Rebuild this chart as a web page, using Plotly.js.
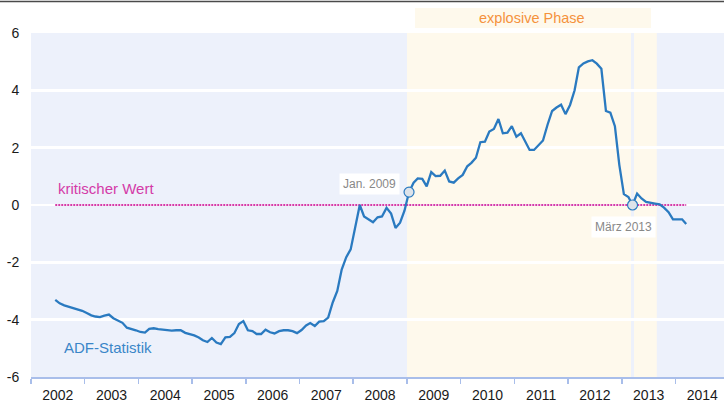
<!DOCTYPE html>
<html>
<head>
<meta charset="utf-8">
<script src="https://cdn.plot.ly/plotly-3.0.1.min.js"></script>
<style>html,body{margin:0;padding:0;background:#fff;}#chart{width:724px;height:407px;}</style>
</head>
<body>
<div id="chart"></div>
<script>
// ---- data (monthly ADF statistic, starting June 2002) ----
var startYear = 2002, startMonth = 6;
var adfValues = [
  -3.31, -3.43, -3.50, -3.55, -3.59, -3.64, -3.69, -3.77, -3.85, -3.89,
  -3.91, -3.86, -3.82, -3.95, -4.02, -4.11, -4.28, -4.32, -4.37, -4.43,
  -4.45, -4.32, -4.30, -4.33, -4.35, -4.35, -4.38, -4.37, -4.37, -4.46,
  -4.50, -4.55, -4.62, -4.72, -4.78, -4.64, -4.80, -4.85, -4.62, -4.60,
  -4.47, -4.15, -4.05, -4.37, -4.40, -4.50, -4.50, -4.35, -4.44, -4.48,
  -4.40, -4.37, -4.37, -4.40, -4.47, -4.36, -4.20, -4.12, -4.22, -4.07,
  -4.05, -3.93, -3.40, -3.00, -2.25, -1.82, -1.55, -0.80, 0.00, -0.40,
  -0.51, -0.60, -0.43, -0.40, -0.10, -0.30, -0.80, -0.62, -0.20, 0.45,
  0.78, 0.93, 0.91, 0.65, 1.15, 1.01, 1.02, 1.20, 0.82, 0.78,
  0.93, 1.05, 1.35, 1.47, 1.65, 2.19, 2.21, 2.56, 2.65, 3.00,
  2.50, 2.52, 2.75, 2.38, 2.50, 2.25, 1.92, 1.92, 2.07, 2.25,
  2.80, 3.28, 3.40, 3.50, 3.17, 3.49, 4.00, 4.80, 4.94, 5.01,
  5.05, 4.93, 4.75, 3.28, 3.22, 2.75, 1.40, 0.38, 0.28, 0.00,
  0.40, 0.23, 0.11, 0.07, 0.05, 0.02, -0.09, -0.25, -0.50, -0.50,
  -0.50, -0.66
];
var criticalValue = 0;
var phaseStart = '2009-01-01';
var phaseEnd = '2013-08-27';
var markerDates = ['2009-01-15', '2013-03-15'];
var markerLabels = ['Jan. 2009', 'März 2013'];
var yTickVals = [-6, -4, -2, 0, 2, 4, 6];
var yTickText = ['-6', '-4', '-2', '0', '2', '4', '6'];

// month dates
var adfDates = adfValues.map(function (v, i) {
  var m = startMonth - 1 + i;
  var y = startYear + Math.floor(m / 12);
  var mm = (m % 12) + 1;
  return y + '-' + (mm < 10 ? '0' : '') + mm + '-15';
});
var markerValues = markerDates.map(function (d) { return adfValues[adfDates.indexOf(d)]; });

var FONT = 'Liberation Sans, Arial, sans-serif';
var BG = '#EDF1FB';
var YEL = '#FEF9EC';
var BLUE = '#2A7AC0';
var MAG = '#D43BA8';

var traces = [
  {x: [adfDates[0], adfDates[adfDates.length - 1]], y: [criticalValue, criticalValue],
   mode: 'lines', line: {color: MAG, width: 2, dash: '2px,1px'}, hoverinfo: 'skip'},
  {x: adfDates, y: adfValues, mode: 'lines', line: {color: BLUE, width: 2.3}},
  {x: markerDates, y: markerValues, mode: 'markers',
   marker: {size: 10, color: '#DDE3EA', line: {color: BLUE, width: 1.2}}}
];

var layout = {
  width: 724, height: 407,
  margin: {l: 31, r: 0, t: 33, b: 30},
  paper_bgcolor: '#FFFFFF',
  plot_bgcolor: BG,
  showlegend: false,
  font: {family: FONT, size: 14, color: '#1A1A1A'},
  xaxis: {
    type: 'date', range: ['2002-01-01', '2014-11-27'],
    tick0: '2002-01-01', dtick: 'M12', tickformat: '%Y', ticklabelmode: 'period',
    ticks: 'outside', ticklen: 5, tickcolor: '#A9BEEA', tickwidth: 1.5,
    showline: true, linecolor: '#A9BEEA', linewidth: 1.5,
    showgrid: false, zeroline: false,
    tickfont: {family: FONT, size: 14, color: '#1A1A1A'}
  },
  yaxis: {
    range: [-6, 6], tickvals: yTickVals, ticktext: yTickText,
    showgrid: true, gridcolor: '#FFFFFF', gridwidth: 2.5, zeroline: false,
    ticks: 'outside', ticklen: 8, tickcolor: 'rgba(0,0,0,0)',
    tickfont: {family: FONT, size: 14, color: '#1A1A1A'}
  },
  shapes: [
    {type: 'rect', xref: 'x', yref: 'paper', x0: phaseStart, x1: phaseEnd, y0: 0, y1: 1,
     fillcolor: YEL, line: {width: 0}, layer: 'between'},
    {type: 'line', xref: 'x', yref: 'paper', x0: markerDates[1], x1: markerDates[1], y0: 0, y1: 1,
     line: {color: BG, width: 3}, layer: 'between'},
    {type: 'rect', xref: 'paper', yref: 'paper', x0: 0.5541, x1: 0.8947, y0: 1.0145, y1: 1.0727,
     fillcolor: YEL, line: {width: 0}},
    {type: 'line', xref: 'paper', yref: 'paper', x0: -0.05, x1: 1.01, y0: 1.0916, y1: 1.0916,
     line: {color: '#4A4A4A', width: 1.5}}
  ],
  annotations: [
    {xref: 'paper', yref: 'paper', x: 0.7229, y: 1.0445, xanchor: 'center', yanchor: 'middle',
     text: 'explosive Phase', showarrow: false, font: {family: FONT, size: 14.5, color: '#F5923C'}},
    {xref: 'paper', yref: 'paper', x: 0.0361, y: 0.549, xanchor: 'left', yanchor: 'middle',
     text: 'kritischer Wert', showarrow: false, font: {family: FONT, size: 15, color: MAG}},
    {xref: 'paper', yref: 'paper', x: 0.0447, y: 0.0872, xanchor: 'left', yanchor: 'middle',
     text: 'ADF-Statistik', showarrow: false, font: {family: FONT, size: 15, color: '#3A86C8'}},
    {xref: 'x', yref: 'y', x: markerDates[0], y: markerValues[0], xshift: -40, yshift: 8,
     text: markerLabels[0], showarrow: false, bgcolor: '#FFFFFF', borderpad: 3,
     font: {family: FONT, size: 12, color: '#888888'}},
    {xref: 'x', yref: 'y', x: markerDates[1], y: markerValues[1], xshift: -9, yshift: -22,
     text: markerLabels[1], showarrow: false, bgcolor: '#FFFFFF', borderpad: 3,
     font: {family: FONT, size: 12, color: '#888888'}}
  ]
};

Plotly.newPlot('chart', traces, layout, {displayModeBar: false, staticPlot: true});
</script>
</body>
</html>
